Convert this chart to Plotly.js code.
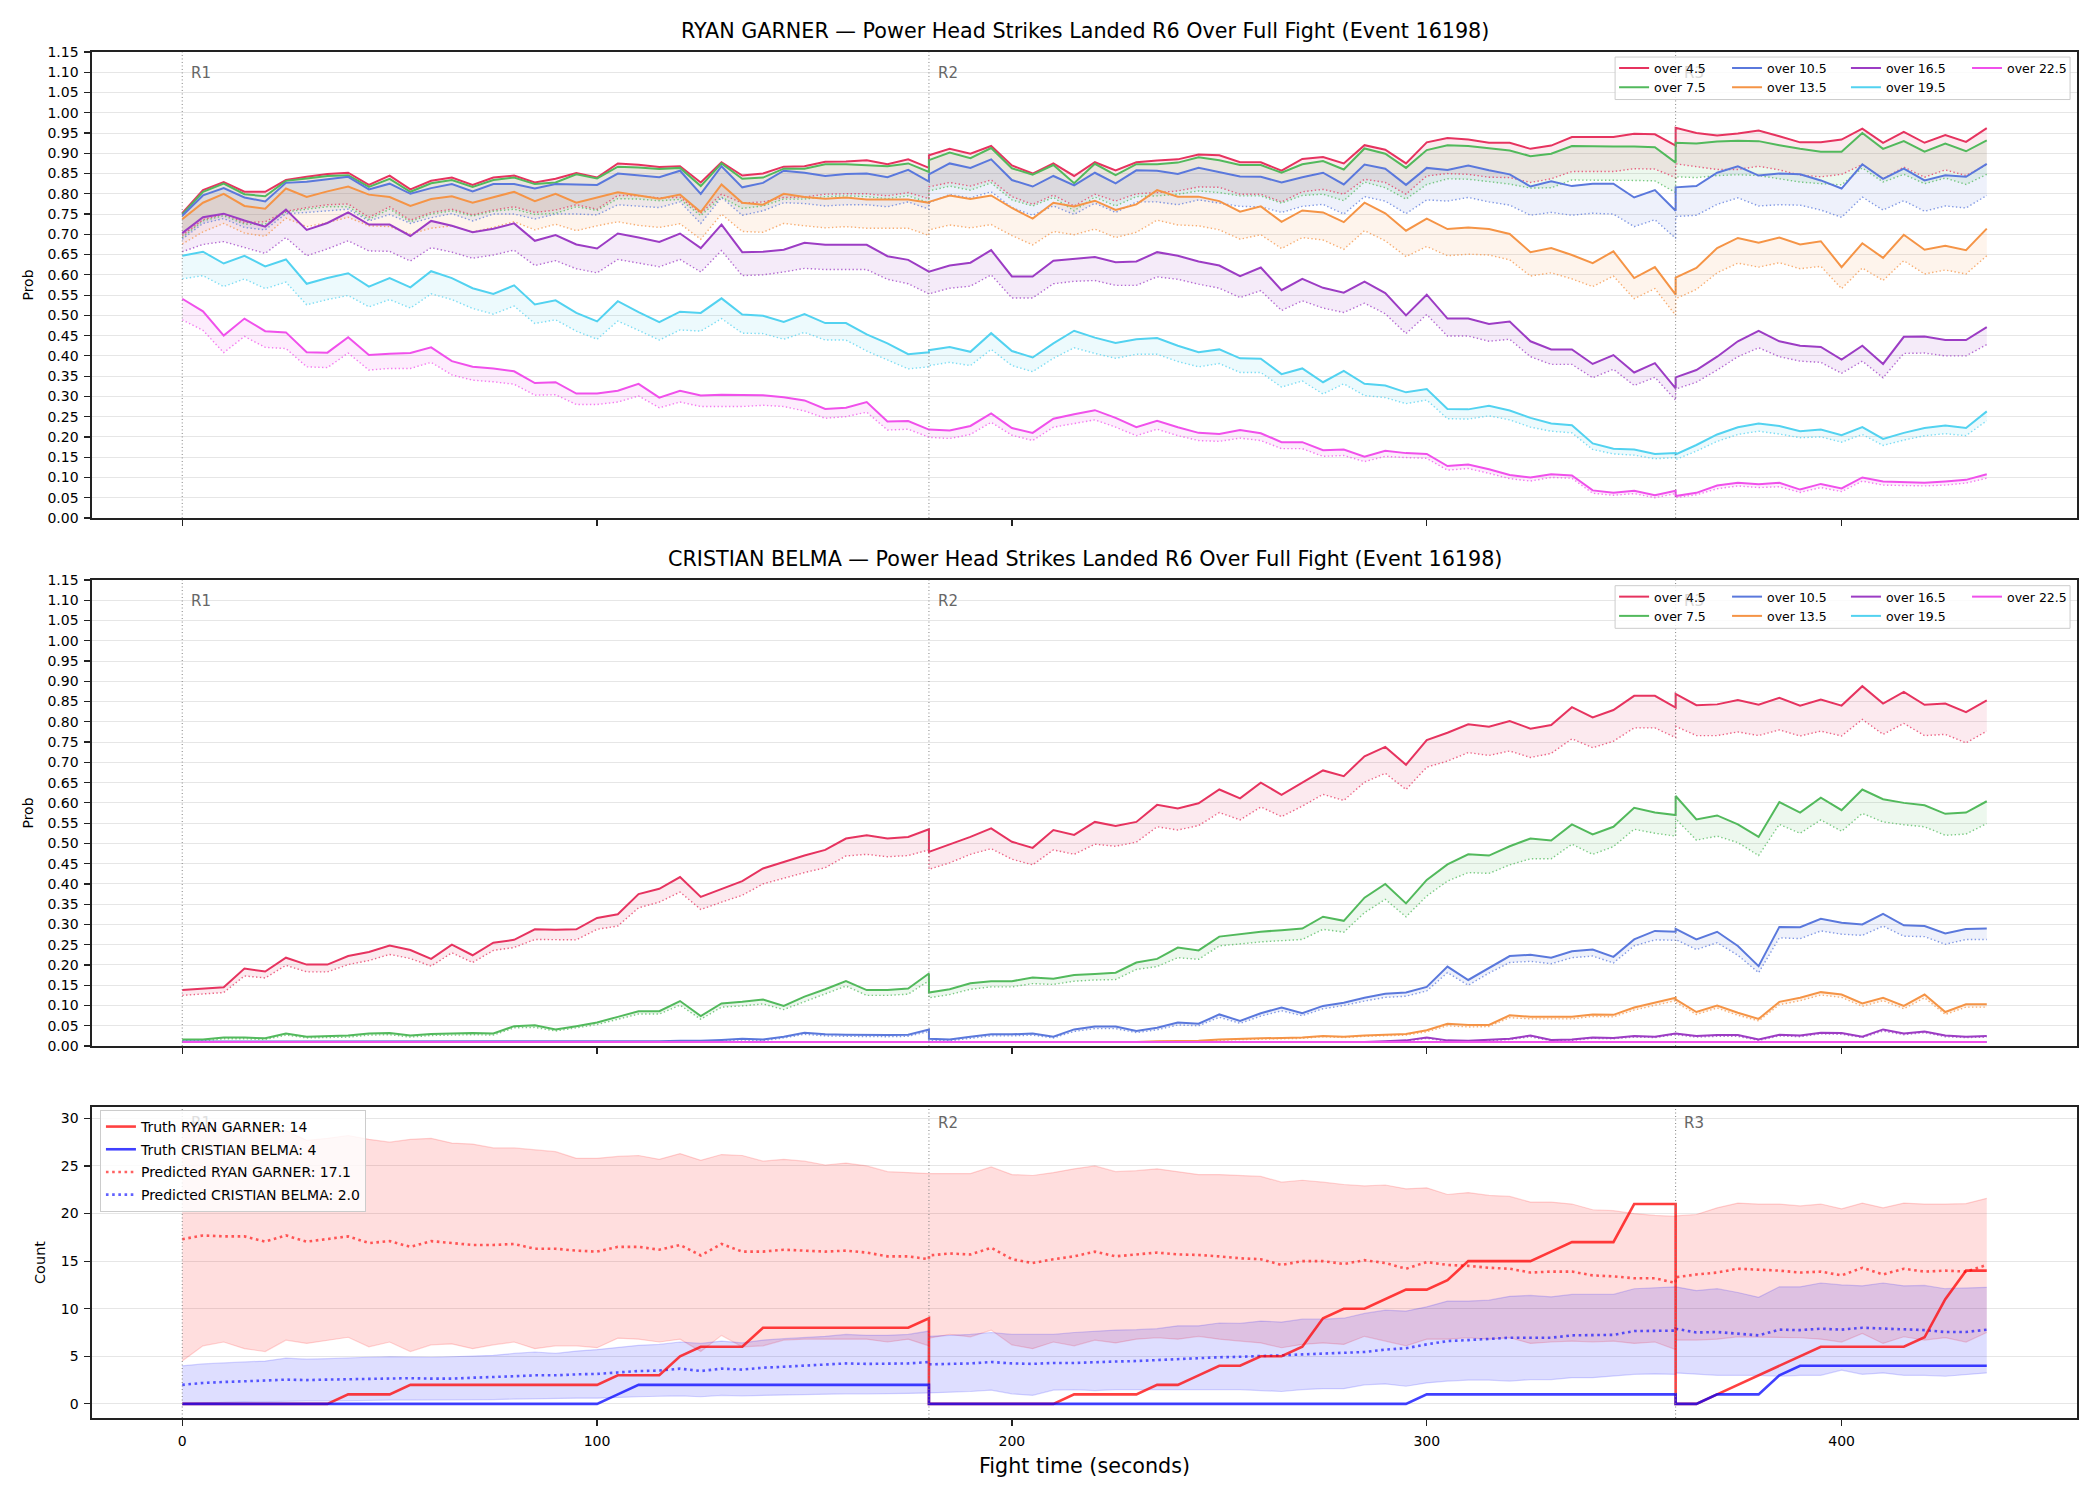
<!DOCTYPE html>
<html><head><meta charset="utf-8">
<script src="https://cdn.plot.ly/plotly-3.0.1.min.js"></script>
<style>html,body{margin:0;padding:0;background:#fff}</style>
</head><body><div id="chart" style="width:2100px;height:1500px"></div>
<script>
// ---------------- DATA ----------------
const fightTime = [
0,5,10,15,20,25,30,35,40,45,50,55,60,65,70,75,80,85,90,95,100,105,110,115,120,125,130,135,140,145,150,155,160,165,170,175,180,
180,185,190,195,200,205,210,215,220,225,230,235,240,245,250,255,260,265,270,275,280,285,290,295,300,305,310,315,320,325,330,335,340,345,350,355,360,
360,365,370,375,380,385,390,395,400,405,410,415,420,425,430,435];
const roundStarts = [0, 180, 360];
const roundLabels = ['R1', 'R2', 'R3'];
const lineLabels = ['over 4.5','over 7.5','over 10.5','over 13.5','over 16.5','over 19.5','over 22.5'];

// RYAN GARNER (panel 1): solid = upper line, _lo = dotted line
const garner_o45 = [0.752,0.809,0.829,0.805,0.805,0.834,0.842,0.849,0.852,0.822,0.845,0.811,0.832,0.840,0.822,0.840,0.845,0.828,0.837,0.851,0.840,0.875,0.872,0.866,0.868,0.828,0.878,0.845,0.850,0.867,0.868,0.879,0.880,0.883,0.873,0.885,0.864,
0.895,0.911,0.899,0.918,0.870,0.850,0.875,0.844,0.878,0.858,0.878,0.882,0.885,0.897,0.895,0.878,0.878,0.857,0.886,0.891,0.875,0.920,0.909,0.875,0.927,0.938,0.934,0.926,0.926,0.911,0.919,0.940,0.940,0.940,0.948,0.947,0.919,
0.963,0.950,0.944,0.949,0.956,0.942,0.927,0.927,0.934,0.961,0.926,0.953,0.926,0.945,0.928,0.962];
const garner_o45_lo = [0.697,0.736,0.750,0.729,0.731,0.757,0.766,0.773,0.775,0.742,0.768,0.735,0.754,0.762,0.748,0.760,0.768,0.754,0.760,0.773,0.762,0.796,0.795,0.790,0.791,0.752,0.799,0.777,0.780,0.791,0.792,0.799,0.800,0.800,0.795,0.803,0.788,
0.817,0.828,0.819,0.834,0.793,0.774,0.797,0.770,0.799,0.782,0.800,0.803,0.807,0.817,0.816,0.799,0.799,0.780,0.805,0.811,0.799,0.836,0.828,0.799,0.844,0.850,0.848,0.841,0.840,0.828,0.837,0.855,0.855,0.855,0.862,0.861,0.840,
0.874,0.867,0.860,0.860,0.868,0.859,0.846,0.842,0.848,0.872,0.837,0.866,0.841,0.859,0.845,0.872];
const garner_o75 = [0.749,0.805,0.825,0.799,0.794,0.832,0.838,0.844,0.846,0.817,0.837,0.805,0.826,0.834,0.817,0.834,0.840,0.824,0.828,0.848,0.838,0.867,0.865,0.861,0.864,0.819,0.875,0.837,0.840,0.862,0.862,0.873,0.873,0.870,0.868,0.875,0.854,
0.883,0.902,0.888,0.913,0.863,0.847,0.871,0.826,0.874,0.846,0.873,0.873,0.877,0.890,0.883,0.871,0.871,0.852,0.873,0.881,0.860,0.912,0.899,0.864,0.908,0.920,0.918,0.913,0.907,0.893,0.899,0.918,0.917,0.917,0.917,0.915,0.877,
0.926,0.924,0.929,0.931,0.930,0.920,0.911,0.904,0.904,0.950,0.911,0.930,0.904,0.924,0.905,0.932];
const garner_o75_lo = [0.692,0.733,0.746,0.725,0.725,0.755,0.762,0.768,0.768,0.737,0.762,0.731,0.750,0.758,0.745,0.757,0.762,0.749,0.752,0.768,0.759,0.788,0.787,0.783,0.786,0.746,0.792,0.764,0.770,0.787,0.787,0.793,0.795,0.793,0.788,0.795,0.778,
0.807,0.819,0.809,0.827,0.785,0.770,0.791,0.758,0.792,0.770,0.793,0.795,0.799,0.807,0.803,0.795,0.795,0.777,0.796,0.799,0.783,0.829,0.815,0.787,0.823,0.837,0.836,0.830,0.824,0.814,0.815,0.834,0.834,0.833,0.833,0.832,0.803,
0.842,0.840,0.845,0.847,0.845,0.837,0.829,0.825,0.822,0.864,0.829,0.848,0.825,0.839,0.823,0.848];
const garner_o105 = [0.746,0.796,0.814,0.791,0.781,0.827,0.830,0.836,0.842,0.811,0.825,0.800,0.814,0.824,0.806,0.824,0.824,0.813,0.824,0.823,0.822,0.850,0.845,0.841,0.857,0.800,0.868,0.816,0.827,0.857,0.852,0.844,0.849,0.850,0.841,0.859,0.830,
0.848,0.875,0.864,0.885,0.834,0.818,0.844,0.821,0.852,0.826,0.858,0.857,0.849,0.864,0.854,0.843,0.842,0.828,0.841,0.852,0.823,0.872,0.862,0.822,0.864,0.859,0.870,0.858,0.848,0.818,0.831,0.819,0.825,0.825,0.791,0.809,0.758,
0.816,0.819,0.852,0.868,0.845,0.850,0.848,0.833,0.813,0.873,0.837,0.862,0.833,0.846,0.842,0.874];
const garner_o105_lo = [0.688,0.727,0.739,0.717,0.711,0.751,0.754,0.758,0.762,0.733,0.749,0.727,0.741,0.751,0.733,0.750,0.750,0.738,0.750,0.750,0.748,0.773,0.770,0.766,0.780,0.727,0.791,0.747,0.758,0.778,0.776,0.770,0.773,0.773,0.768,0.780,0.762,
0.778,0.798,0.790,0.805,0.766,0.747,0.770,0.749,0.777,0.754,0.780,0.780,0.773,0.785,0.777,0.769,0.768,0.754,0.769,0.774,0.750,0.793,0.782,0.751,0.785,0.782,0.791,0.780,0.772,0.747,0.754,0.747,0.752,0.750,0.719,0.736,0.690,
0.744,0.747,0.774,0.790,0.770,0.773,0.772,0.760,0.742,0.792,0.760,0.783,0.757,0.770,0.765,0.796];
const garner_o135 = [0.737,0.778,0.800,0.770,0.763,0.813,0.792,0.806,0.818,0.798,0.792,0.770,0.787,0.794,0.778,0.791,0.805,0.782,0.800,0.778,0.791,0.804,0.796,0.788,0.798,0.755,0.823,0.778,0.773,0.800,0.792,0.788,0.791,0.786,0.786,0.786,0.778,
0.780,0.796,0.787,0.796,0.765,0.739,0.778,0.769,0.783,0.760,0.774,0.809,0.793,0.793,0.782,0.756,0.769,0.731,0.759,0.754,0.730,0.778,0.752,0.709,0.739,0.713,0.717,0.713,0.701,0.656,0.666,0.649,0.629,0.658,0.592,0.619,0.551,
0.593,0.617,0.666,0.691,0.679,0.692,0.675,0.683,0.619,0.678,0.642,0.699,0.662,0.672,0.661,0.714];
const garner_o135_lo = [0.676,0.706,0.727,0.703,0.695,0.740,0.719,0.729,0.742,0.721,0.719,0.701,0.715,0.721,0.706,0.717,0.731,0.711,0.725,0.709,0.721,0.731,0.722,0.717,0.726,0.688,0.750,0.707,0.705,0.727,0.721,0.716,0.719,0.715,0.715,0.715,0.697,
0.711,0.723,0.716,0.724,0.697,0.674,0.707,0.699,0.713,0.692,0.705,0.735,0.723,0.721,0.711,0.688,0.699,0.665,0.692,0.686,0.663,0.709,0.684,0.645,0.670,0.647,0.651,0.649,0.637,0.597,0.605,0.590,0.571,0.597,0.541,0.566,0.500,
0.541,0.564,0.605,0.629,0.619,0.630,0.615,0.621,0.566,0.617,0.586,0.635,0.602,0.612,0.602,0.647];
const garner_o165 = [0.703,0.742,0.751,0.734,0.719,0.761,0.711,0.728,0.754,0.724,0.724,0.696,0.733,0.721,0.705,0.714,0.727,0.684,0.698,0.675,0.665,0.702,0.692,0.681,0.702,0.666,0.724,0.656,0.657,0.662,0.679,0.674,0.674,0.674,0.646,0.637,0.608,
0.608,0.623,0.630,0.661,0.596,0.596,0.635,0.640,0.644,0.631,0.633,0.656,0.647,0.633,0.623,0.597,0.618,0.562,0.590,0.568,0.556,0.583,0.555,0.500,0.551,0.492,0.492,0.479,0.485,0.436,0.416,0.416,0.380,0.402,0.359,0.382,0.320,
0.347,0.365,0.398,0.436,0.462,0.436,0.425,0.422,0.391,0.425,0.380,0.447,0.448,0.439,0.439,0.471];
const garner_o165_lo = [0.657,0.675,0.682,0.667,0.653,0.692,0.647,0.664,0.684,0.659,0.658,0.634,0.667,0.656,0.641,0.649,0.661,0.623,0.635,0.615,0.605,0.638,0.629,0.620,0.638,0.607,0.660,0.598,0.600,0.607,0.616,0.613,0.613,0.613,0.589,0.578,0.553,
0.553,0.567,0.572,0.600,0.543,0.543,0.578,0.584,0.586,0.574,0.574,0.595,0.589,0.577,0.567,0.544,0.561,0.512,0.536,0.518,0.507,0.530,0.504,0.455,0.502,0.449,0.449,0.436,0.441,0.398,0.379,0.379,0.346,0.367,0.327,0.347,0.291,
0.318,0.335,0.365,0.398,0.420,0.398,0.387,0.384,0.357,0.387,0.346,0.406,0.407,0.400,0.400,0.428];
const garner_o195 = [0.647,0.657,0.628,0.647,0.621,0.638,0.578,0.592,0.604,0.571,0.592,0.569,0.609,0.592,0.567,0.553,0.574,0.527,0.537,0.506,0.485,0.535,0.508,0.483,0.509,0.506,0.542,0.502,0.499,0.484,0.503,0.481,0.481,0.453,0.431,0.404,0.409,
0.414,0.422,0.410,0.456,0.412,0.396,0.431,0.462,0.445,0.432,0.441,0.444,0.425,0.409,0.416,0.394,0.393,0.355,0.369,0.335,0.363,0.331,0.327,0.310,0.318,0.269,0.268,0.277,0.265,0.247,0.233,0.229,0.184,0.171,0.169,0.158,0.160,
0.157,0.180,0.206,0.224,0.233,0.227,0.214,0.218,0.204,0.224,0.195,0.210,0.222,0.228,0.222,0.263];
const garner_o195_lo = [0.590,0.598,0.571,0.590,0.566,0.582,0.526,0.539,0.549,0.521,0.539,0.518,0.553,0.539,0.517,0.503,0.523,0.480,0.489,0.461,0.441,0.486,0.463,0.439,0.464,0.461,0.492,0.456,0.455,0.441,0.458,0.439,0.439,0.412,0.390,0.368,0.373,
0.376,0.384,0.376,0.416,0.376,0.361,0.394,0.420,0.406,0.394,0.404,0.404,0.386,0.373,0.381,0.359,0.359,0.323,0.338,0.306,0.331,0.302,0.297,0.282,0.291,0.245,0.244,0.252,0.242,0.224,0.214,0.210,0.169,0.158,0.155,0.146,0.149,
0.144,0.165,0.189,0.206,0.214,0.207,0.198,0.200,0.187,0.206,0.179,0.192,0.203,0.208,0.203,0.240];
const garner_o225 = [0.541,0.510,0.450,0.492,0.461,0.458,0.409,0.408,0.446,0.402,0.405,0.407,0.421,0.387,0.373,0.369,0.362,0.333,0.335,0.307,0.307,0.314,0.331,0.297,0.314,0.302,0.304,0.304,0.303,0.298,0.290,0.269,0.272,0.286,0.238,0.239,0.218,
0.218,0.216,0.227,0.258,0.222,0.210,0.245,0.256,0.266,0.247,0.224,0.240,0.224,0.210,0.207,0.217,0.209,0.187,0.187,0.167,0.169,0.151,0.166,0.160,0.158,0.128,0.132,0.120,0.106,0.100,0.108,0.105,0.068,0.062,0.067,0.056,0.067,
0.054,0.062,0.080,0.087,0.083,0.087,0.070,0.084,0.073,0.100,0.090,0.088,0.087,0.090,0.094,0.108];
const garner_o225_lo = [0.489,0.463,0.408,0.448,0.421,0.418,0.373,0.371,0.407,0.365,0.369,0.369,0.384,0.353,0.340,0.336,0.330,0.303,0.304,0.280,0.280,0.286,0.301,0.272,0.286,0.275,0.275,0.275,0.278,0.275,0.264,0.246,0.250,0.261,0.217,0.219,0.199,
0.199,0.196,0.206,0.236,0.204,0.191,0.224,0.233,0.242,0.224,0.203,0.219,0.203,0.191,0.189,0.197,0.191,0.171,0.171,0.152,0.154,0.139,0.152,0.149,0.147,0.118,0.122,0.110,0.097,0.091,0.100,0.098,0.061,0.056,0.060,0.050,0.060,
0.050,0.057,0.072,0.079,0.075,0.077,0.063,0.075,0.065,0.091,0.081,0.080,0.079,0.081,0.086,0.098];

// CRISTIAN BELMA (panel 2)
const belma_o45 = [0.138,0.141,0.145,0.191,0.184,0.218,0.201,0.201,0.222,0.232,0.248,0.237,0.215,0.250,0.224,0.255,0.262,0.288,0.287,0.288,0.316,0.325,0.375,0.388,0.417,0.368,0.388,0.407,0.438,0.454,0.470,0.484,0.512,0.520,0.512,0.516,0.535,
0.479,0.498,0.516,0.537,0.504,0.489,0.533,0.521,0.553,0.543,0.553,0.595,0.586,0.599,0.633,0.611,0.650,0.620,0.650,0.680,0.666,0.715,0.738,0.694,0.755,0.773,0.794,0.788,0.802,0.783,0.792,0.836,0.811,0.829,0.864,0.864,0.835,
0.869,0.841,0.843,0.854,0.842,0.859,0.840,0.855,0.840,0.888,0.845,0.874,0.842,0.845,0.824,0.853];
const belma_o45_lo = [0.125,0.129,0.132,0.173,0.168,0.199,0.183,0.183,0.201,0.211,0.226,0.216,0.197,0.230,0.206,0.236,0.243,0.263,0.262,0.262,0.288,0.296,0.341,0.355,0.380,0.337,0.355,0.372,0.400,0.414,0.428,0.440,0.469,0.473,0.467,0.470,0.484,
0.436,0.452,0.473,0.487,0.461,0.447,0.484,0.473,0.498,0.493,0.503,0.541,0.533,0.544,0.576,0.558,0.590,0.566,0.592,0.621,0.606,0.651,0.673,0.633,0.688,0.703,0.724,0.717,0.728,0.712,0.722,0.758,0.736,0.752,0.785,0.785,0.761,
0.789,0.766,0.766,0.775,0.766,0.780,0.765,0.777,0.765,0.806,0.769,0.796,0.766,0.769,0.748,0.777];
const belma_o75 = [0.016,0.016,0.021,0.021,0.019,0.031,0.023,0.025,0.026,0.031,0.032,0.026,0.030,0.031,0.032,0.031,0.049,0.051,0.041,0.049,0.058,0.072,0.086,0.086,0.111,0.074,0.105,0.109,0.115,0.099,0.122,0.140,0.160,0.138,0.138,0.142,0.179,
0.132,0.140,0.155,0.160,0.160,0.169,0.166,0.175,0.178,0.181,0.206,0.215,0.243,0.236,0.270,0.276,0.282,0.286,0.290,0.319,0.309,0.366,0.400,0.352,0.410,0.448,0.473,0.470,0.493,0.512,0.507,0.547,0.522,0.541,0.588,0.576,0.570,
0.617,0.559,0.569,0.547,0.516,0.602,0.576,0.613,0.582,0.633,0.609,0.600,0.594,0.573,0.576,0.604];
const belma_o75_lo = [0.013,0.013,0.018,0.018,0.016,0.027,0.020,0.021,0.022,0.027,0.028,0.022,0.026,0.027,0.028,0.027,0.045,0.046,0.037,0.045,0.053,0.066,0.079,0.079,0.101,0.066,0.096,0.099,0.104,0.090,0.110,0.128,0.148,0.125,0.125,0.128,0.161,
0.119,0.127,0.140,0.146,0.146,0.154,0.152,0.160,0.163,0.164,0.189,0.196,0.218,0.214,0.247,0.252,0.257,0.260,0.263,0.288,0.281,0.329,0.362,0.319,0.370,0.407,0.428,0.426,0.447,0.462,0.462,0.498,0.473,0.492,0.535,0.525,0.518,
0.561,0.508,0.518,0.502,0.470,0.547,0.525,0.558,0.530,0.574,0.553,0.546,0.541,0.520,0.523,0.549];
const belma_o105 = [0.011,0.011,0.011,0.011,0.011,0.011,0.011,0.011,0.011,0.011,0.011,0.011,0.011,0.011,0.011,0.011,0.011,0.011,0.011,0.011,0.011,0.011,0.011,0.012,0.013,0.013,0.015,0.018,0.016,0.023,0.033,0.029,0.028,0.027,0.027,0.028,0.041,
0.018,0.016,0.023,0.029,0.029,0.031,0.023,0.041,0.048,0.048,0.037,0.045,0.058,0.055,0.078,0.062,0.081,0.095,0.081,0.099,0.107,0.119,0.129,0.132,0.146,0.196,0.163,0.192,0.222,0.225,0.218,0.234,0.238,0.220,0.263,0.284,0.282,
0.289,0.263,0.282,0.247,0.197,0.294,0.293,0.314,0.304,0.300,0.326,0.298,0.296,0.278,0.289,0.290];
const belma_o105_lo = [0.009,0.009,0.009,0.009,0.009,0.009,0.009,0.009,0.009,0.009,0.009,0.009,0.009,0.009,0.009,0.009,0.009,0.009,0.009,0.009,0.009,0.009,0.009,0.010,0.011,0.011,0.013,0.015,0.013,0.020,0.029,0.025,0.024,0.023,0.023,0.024,0.036,
0.013,0.013,0.019,0.025,0.025,0.027,0.020,0.036,0.043,0.043,0.033,0.040,0.052,0.050,0.071,0.056,0.074,0.087,0.075,0.092,0.100,0.111,0.120,0.123,0.136,0.181,0.150,0.180,0.206,0.209,0.203,0.218,0.222,0.205,0.247,0.262,0.261,
0.263,0.238,0.255,0.224,0.181,0.267,0.265,0.284,0.276,0.273,0.296,0.271,0.270,0.251,0.263,0.263];
const belma_o135 = [0.010,0.010,0.010,0.010,0.010,0.010,0.010,0.010,0.010,0.010,0.010,0.010,0.010,0.010,0.010,0.010,0.010,0.010,0.010,0.010,0.010,0.010,0.010,0.010,0.010,0.010,0.010,0.010,0.010,0.010,0.010,0.010,0.010,0.010,0.010,0.010,0.010,
0.010,0.010,0.010,0.010,0.010,0.010,0.010,0.010,0.010,0.010,0.010,0.012,0.013,0.013,0.016,0.018,0.019,0.020,0.021,0.025,0.023,0.026,0.028,0.030,0.039,0.055,0.052,0.052,0.076,0.072,0.072,0.072,0.078,0.077,0.095,0.107,0.119,
0.115,0.084,0.100,0.082,0.067,0.109,0.119,0.133,0.127,0.105,0.119,0.099,0.127,0.084,0.103,0.103];
const belma_o135_lo = [0.009,0.009,0.009,0.009,0.009,0.009,0.009,0.009,0.009,0.009,0.009,0.009,0.009,0.009,0.009,0.009,0.009,0.009,0.009,0.009,0.009,0.009,0.009,0.009,0.009,0.009,0.009,0.009,0.009,0.009,0.009,0.009,0.009,0.009,0.009,0.009,0.009,
0.009,0.009,0.009,0.009,0.009,0.009,0.009,0.009,0.009,0.009,0.009,0.011,0.012,0.012,0.014,0.016,0.017,0.018,0.019,0.023,0.021,0.024,0.026,0.027,0.035,0.050,0.047,0.048,0.070,0.067,0.067,0.067,0.073,0.072,0.089,0.100,0.112,
0.108,0.078,0.094,0.076,0.062,0.102,0.112,0.126,0.120,0.098,0.112,0.092,0.119,0.078,0.096,0.096];
const belma_o165 = [0.010,0.010,0.010,0.010,0.010,0.010,0.010,0.010,0.010,0.010,0.010,0.010,0.010,0.010,0.010,0.010,0.010,0.010,0.010,0.010,0.010,0.010,0.010,0.010,0.010,0.010,0.010,0.010,0.010,0.010,0.010,0.010,0.010,0.010,0.010,0.010,0.010,
0.010,0.010,0.010,0.010,0.010,0.010,0.010,0.010,0.010,0.010,0.010,0.010,0.010,0.010,0.010,0.010,0.010,0.010,0.010,0.010,0.010,0.010,0.012,0.014,0.021,0.014,0.013,0.016,0.018,0.026,0.015,0.016,0.021,0.020,0.025,0.023,0.031,
0.031,0.025,0.027,0.027,0.016,0.028,0.026,0.033,0.032,0.023,0.041,0.031,0.036,0.026,0.023,0.025];
const belma_o165_lo = [0.009,0.009,0.009,0.009,0.009,0.009,0.009,0.009,0.009,0.009,0.009,0.009,0.009,0.009,0.009,0.009,0.009,0.009,0.009,0.009,0.009,0.009,0.009,0.009,0.009,0.009,0.009,0.009,0.009,0.009,0.009,0.009,0.009,0.009,0.009,0.009,0.009,
0.009,0.009,0.009,0.009,0.009,0.009,0.009,0.009,0.009,0.009,0.009,0.009,0.009,0.009,0.009,0.009,0.009,0.009,0.009,0.009,0.009,0.009,0.011,0.012,0.019,0.012,0.011,0.014,0.016,0.023,0.013,0.014,0.019,0.018,0.022,0.021,0.028,
0.028,0.022,0.024,0.024,0.014,0.025,0.023,0.030,0.029,0.021,0.037,0.028,0.033,0.023,0.021,0.022];
const belma_o195 = [0.010,0.010,0.010,0.010,0.010,0.010,0.010,0.010,0.010,0.010,0.010,0.010,0.010,0.010,0.010,0.010,0.010,0.010,0.010,0.010,0.010,0.010,0.010,0.010,0.010,0.010,0.010,0.010,0.010,0.010,0.010,0.010,0.010,0.010,0.010,0.010,0.010,
0.010,0.010,0.010,0.010,0.010,0.010,0.010,0.010,0.010,0.010,0.010,0.010,0.010,0.010,0.010,0.010,0.010,0.010,0.010,0.010,0.010,0.010,0.010,0.010,0.010,0.010,0.010,0.010,0.010,0.010,0.010,0.010,0.010,0.010,0.010,0.010,0.011,
0.011,0.010,0.010,0.010,0.010,0.010,0.010,0.010,0.010,0.010,0.010,0.010,0.010,0.010,0.010,0.010];
const belma_o195_lo = [0.009,0.009,0.009,0.009,0.009,0.009,0.009,0.009,0.009,0.009,0.009,0.009,0.009,0.009,0.009,0.009,0.009,0.009,0.009,0.009,0.009,0.009,0.009,0.009,0.009,0.009,0.009,0.009,0.009,0.009,0.009,0.009,0.009,0.009,0.009,0.009,0.009,
0.009,0.009,0.009,0.009,0.009,0.009,0.009,0.009,0.009,0.009,0.009,0.009,0.009,0.009,0.009,0.009,0.009,0.009,0.009,0.009,0.009,0.009,0.009,0.009,0.009,0.009,0.009,0.009,0.009,0.009,0.009,0.009,0.009,0.009,0.009,0.009,0.010,
0.010,0.009,0.009,0.009,0.009,0.009,0.009,0.009,0.009,0.009,0.009,0.009,0.009,0.009,0.009,0.009];
const belma_o225 = [0.010,0.010,0.010,0.010,0.010,0.010,0.010,0.010,0.010,0.010,0.010,0.010,0.010,0.010,0.010,0.010,0.010,0.010,0.010,0.010,0.010,0.010,0.010,0.010,0.010,0.010,0.010,0.010,0.010,0.010,0.010,0.010,0.010,0.010,0.010,0.010,0.010,
0.010,0.010,0.010,0.010,0.010,0.010,0.010,0.010,0.010,0.010,0.010,0.010,0.010,0.010,0.010,0.010,0.010,0.010,0.010,0.010,0.010,0.010,0.010,0.010,0.010,0.010,0.010,0.010,0.010,0.010,0.010,0.010,0.010,0.010,0.010,0.010,0.010,
0.010,0.010,0.010,0.010,0.010,0.010,0.010,0.010,0.010,0.010,0.010,0.010,0.010,0.010,0.010,0.010];
const belma_o225_lo = [0.009,0.009,0.009,0.009,0.009,0.009,0.009,0.009,0.009,0.009,0.009,0.009,0.009,0.009,0.009,0.009,0.009,0.009,0.009,0.009,0.009,0.009,0.009,0.009,0.009,0.009,0.009,0.009,0.009,0.009,0.009,0.009,0.009,0.009,0.009,0.009,0.009,
0.009,0.009,0.009,0.009,0.009,0.009,0.009,0.009,0.009,0.009,0.009,0.009,0.009,0.009,0.009,0.009,0.009,0.009,0.009,0.009,0.009,0.009,0.009,0.009,0.009,0.009,0.009,0.009,0.009,0.009,0.009,0.009,0.009,0.009,0.009,0.009,0.009,
0.009,0.009,0.009,0.009,0.009,0.009,0.009,0.009,0.009,0.009,0.009,0.009,0.009,0.009,0.009,0.009];

// Counts (panel 3)
const truth_garner = [0,0,0,0,0,0,0,0,1,1,1,2,2,2,2,2,2,2,2,2,2,3,3,3,5,6,6,6,8,8,8,8,8,8,8,8,9,
0,0,0,0,0,0,0,1,1,1,1,2,2,3,4,4,5,5,6,9,10,10,11,12,12,13,15,15,15,15,16,17,17,17,21,21,21,
0,0,1,2,3,4,5,6,6,6,6,6,7,11,14,14];
const truth_belma = [0,0,0,0,0,0,0,0,0,0,0,0,0,0,0,0,0,0,0,0,0,1,2,2,2,2,2,2,2,2,2,2,2,2,2,2,2,
0,0,0,0,0,0,0,0,0,0,0,0,0,0,0,0,0,0,0,0,0,0,0,0,1,1,1,1,1,1,1,1,1,1,1,1,1,
0,0,1,1,1,3,4,4,4,4,4,4,4,4,4,4];
const pred_garner = [17.3,17.7,17.6,17.6,17.05,17.7,17.05,17.3,17.6,16.9,17.1,16.5,17.1,16.9,16.7,16.7,16.8,16.3,16.3,16.1,16.0,16.5,16.5,16.2,16.7,15.6,16.8,16.0,16.0,16.2,16.1,16.0,16.1,15.9,15.5,15.5,15.2,
15.6,15.8,15.7,16.4,15.2,14.8,15.2,15.5,16.0,15.5,15.7,15.9,15.7,15.65,15.5,15.3,15.2,14.6,15.0,15.0,14.7,15.1,14.8,14.2,14.9,14.6,14.5,14.3,14.2,13.8,13.9,13.9,13.5,13.4,13.2,13.2,12.7,
13.3,13.6,13.8,14.2,14.1,14.0,13.8,13.9,13.5,14.3,13.6,14.2,13.9,14.0,13.9,14.6];
const pred_garner_hi = [29.7,29.3,28.7,29.3,28.6,28.7,27.7,27.9,28.2,27.8,27.5,27.8,27.9,27.4,27.3,26.9,26.9,26.7,26.5,25.8,25.8,26.0,26.1,25.7,26.3,25.6,26.2,26.1,25.5,25.7,25.5,25.1,25.3,25.0,24.4,24.3,24.2,
24.2,24.2,24.2,24.9,24.1,24.0,24.3,24.7,25.0,24.4,24.5,24.7,24.4,24.1,24.1,24.0,23.9,23.3,23.5,23.3,23.05,22.9,23.0,22.6,22.7,22.0,22.2,21.9,21.8,21.2,21.2,21.0,20.4,20.3,20.0,19.8,19.7,
19.75,19.9,20.6,21.1,21.0,21.0,20.8,21.0,20.5,21.1,20.6,21.1,21.0,21.0,21.05,21.6];
const pred_garner_lo = [4.5,6.1,6.5,5.8,5.5,6.7,6.35,6.7,7.0,6.0,6.5,5.5,6.2,6.3,5.8,6.2,6.5,5.8,6.1,6.1,5.9,6.9,6.8,6.5,6.8,5.5,7.2,6.0,6.1,6.7,6.8,6.8,6.8,6.8,6.5,6.8,6.1,
6.9,7.3,7.05,7.75,6.2,5.8,6.5,6.1,6.7,6.4,6.8,6.95,6.8,7.1,6.8,6.6,6.4,5.9,6.25,6.4,6.25,7.1,6.6,6.1,6.8,6.8,6.95,6.8,6.95,6.35,6.5,6.6,6.5,6.6,6.35,6.5,5.7,
6.7,6.7,6.8,7.05,7.0,6.95,6.95,6.8,6.5,7.4,6.35,7.05,6.7,6.95,6.5,7.5];
const pred_belma = [2.0,2.2,2.3,2.35,2.45,2.55,2.5,2.55,2.6,2.65,2.65,2.7,2.65,2.65,2.75,2.8,2.9,3.0,3.0,3.1,3.15,3.3,3.45,3.5,3.7,3.45,3.7,3.6,3.8,3.9,4.0,4.15,4.25,4.2,4.2,4.25,4.4,
4.15,4.2,4.25,4.4,4.25,4.2,4.3,4.3,4.4,4.45,4.5,4.6,4.75,4.85,4.9,4.95,5.0,5.1,5.2,5.3,5.35,5.45,5.7,5.85,6.25,6.6,6.7,6.8,6.95,6.95,6.95,7.2,7.2,7.25,7.65,7.65,7.7,
7.9,7.5,7.55,7.4,7.2,7.8,7.75,7.9,7.8,8.0,7.9,7.8,7.75,7.55,7.55,7.8];
const pred_belma_hi = [4.0,4.2,4.3,4.4,4.5,4.8,4.7,4.75,4.85,4.9,4.95,4.9,4.9,4.95,5.0,5.1,5.3,5.45,5.3,5.55,5.7,5.9,6.15,6.25,6.5,6.35,6.6,6.4,6.7,6.85,6.95,7.1,7.3,7.2,7.2,7.3,7.65,
7.1,7.2,7.3,7.5,7.3,7.3,7.3,7.5,7.65,7.75,7.8,7.9,8.2,8.2,8.5,8.45,8.7,8.6,8.9,8.9,9.0,9.5,9.85,9.75,10.2,10.8,10.8,10.9,11.3,11.4,11.25,11.5,11.5,11.5,12.1,12.2,12.3,
12.3,11.9,12.1,11.7,11.2,12.3,12.3,12.7,12.5,12.4,12.7,12.4,12.45,12.1,12.2,12.25];
const pred_belma_lo = [0.0,0.1,0.15,0.2,0.25,0.3,0.3,0.3,0.35,0.35,0.4,0.4,0.4,0.4,0.45,0.45,0.5,0.55,0.55,0.6,0.6,0.7,0.75,0.8,0.85,0.75,0.9,0.85,0.9,0.95,1.0,1.05,1.05,1.05,1.05,1.1,1.15,
1.15,1.2,1.3,1.45,1.05,0.9,1.45,1.5,1.4,1.5,1.5,1.45,1.5,1.5,1.45,1.5,1.4,1.3,1.5,1.6,1.6,2.0,2.1,1.85,2.2,2.4,2.5,2.5,2.4,2.55,2.55,2.75,2.75,2.9,3.1,3.15,3.1,
3.25,3.1,3.0,3.0,3.0,2.9,3.0,3.0,3.55,3.1,3.25,3.0,3.0,2.9,3.1,3.25];

// ---------------- STYLE ----------------
const FONT = 'DejaVu Sans, Verdana, sans-serif';
const lineColors = ['#e6335f','#52b95c','#5a78dc','#f59446','#9c3cc4','#52d2f0','#f050eb'];
function rgba(hex, a){const n=parseInt(hex.slice(1),16);return `rgba(${(n>>16)&255},${(n>>8)&255},${n&255},${a})`;}

const garnerSeries = [[garner_o45,garner_o45_lo],[garner_o75,garner_o75_lo],[garner_o105,garner_o105_lo],[garner_o135,garner_o135_lo],[garner_o165,garner_o165_lo],[garner_o195,garner_o195_lo],[garner_o225,garner_o225_lo]];
const belmaSeries = [[belma_o45,belma_o45_lo],[belma_o75,belma_o75_lo],[belma_o105,belma_o105_lo],[belma_o135,belma_o135_lo],[belma_o165,belma_o165_lo],[belma_o195,belma_o195_lo],[belma_o225,belma_o225_lo]];

function probTraces(series, xa, ya, legendIds){
  const fills=[], lines=[];
  series.forEach((pair,i)=>{
    const c=lineColors[i];
    fills.push({x:fightTime,y:pair[1],xaxis:xa,yaxis:ya,mode:'lines',line:{width:0,color:c},showlegend:false,hoverinfo:'skip'});
    fills.push({x:fightTime,y:pair[0],xaxis:xa,yaxis:ya,mode:'lines',line:{width:0,color:c},fill:'tonexty',fillcolor:rgba(c,0.1),showlegend:false,hoverinfo:'skip'});
  });
  series.forEach((pair,i)=>{
    const c=lineColors[i];
    lines.push({x:fightTime,y:pair[1],xaxis:xa,yaxis:ya,mode:'lines',line:{color:rgba(c,0.75),width:1.4,dash:'1.4px,2.4px'},showlegend:false,hoverinfo:'skip'});
  });
  series.forEach((pair,i)=>{
    const c=lineColors[i];
    lines.push({x:fightTime,y:pair[0],xaxis:xa,yaxis:ya,mode:'lines',line:{color:c,width:2},name:lineLabels[i],legend:legendIds[Math.floor(i/2)],legendrank:i+1,showlegend:true});
  });
  return fills.concat(lines);
}

const traces = [].concat(
  probTraces(garnerSeries,'x','y',['legend','legend2','legend3','legend4']),
  probTraces(belmaSeries,'x2','y2',['legend5','legend6','legend7','legend8'])
);
// count panel
const bandEdgeR='rgba(255,0,0,0.16)', bandEdgeB='rgba(0,0,255,0.16)';
traces.push({x:fightTime,y:pred_garner_lo,xaxis:'x3',yaxis:'y3',mode:'lines',line:{width:1.2,color:bandEdgeR},showlegend:false,hoverinfo:'skip'});
traces.push({x:fightTime,y:pred_garner_hi,xaxis:'x3',yaxis:'y3',mode:'lines',line:{width:1.2,color:bandEdgeR},fill:'tonexty',fillcolor:'rgba(255,0,0,0.13)',showlegend:false,hoverinfo:'skip'});
traces.push({x:fightTime,y:pred_belma_lo,xaxis:'x3',yaxis:'y3',mode:'lines',line:{width:1.2,color:bandEdgeB},showlegend:false,hoverinfo:'skip'});
traces.push({x:fightTime,y:pred_belma_hi,xaxis:'x3',yaxis:'y3',mode:'lines',line:{width:1.2,color:bandEdgeB},fill:'tonexty',fillcolor:'rgba(0,0,255,0.13)',showlegend:false,hoverinfo:'skip'});
traces.push({x:fightTime,y:pred_garner,xaxis:'x3',yaxis:'y3',mode:'lines',line:{color:'rgba(255,0,0,0.62)',width:2.6,dash:'2.6px,3.6px'},name:'Predicted RYAN GARNER: 17.1',legend:'legend9',legendgroup:'c',legendrank:3});
traces.push({x:fightTime,y:pred_belma,xaxis:'x3',yaxis:'y3',mode:'lines',line:{color:'rgba(0,0,255,0.62)',width:2.6,dash:'2.6px,3.6px'},name:'Predicted CRISTIAN BELMA: 2.0',legend:'legend9',legendgroup:'d',legendrank:4});
traces.push({x:fightTime,y:truth_garner,xaxis:'x3',yaxis:'y3',mode:'lines',line:{color:'rgba(255,0,0,0.75)',width:2.6},name:'Truth RYAN GARNER: 14',legend:'legend9',legendgroup:'a',legendrank:1});
traces.push({x:fightTime,y:truth_belma,xaxis:'x3',yaxis:'y3',mode:'lines',line:{color:'rgba(0,0,255,0.75)',width:2.6},name:'Truth CRISTIAN BELMA: 4',legend:'legend9',legendgroup:'b',legendrank:2});

// ---------------- LAYOUT ----------------
const probTicks=[]; for(let i=0;i<=23;i++) probTicks.push(+(i*0.05).toFixed(2));
const xr=[-21.75,456.75];
function xAxis(show, anchor){
  return {range:xr,anchor:anchor,tickmode:'array',tickvals:[0,100,200,300,400],showticklabels:show,ticks:'outside',ticklen:6,tickwidth:1.2,tickcolor:'#222',
    showgrid:false,zeroline:false,showline:true,mirror:true,linecolor:'#222',linewidth:1.6,tickfont:{size:14,color:'#000'},ticklabelstandoff:4};
}
function yProb(domain, anchor){
  return {domain:domain,anchor:anchor,range:[0,1.15],tickmode:'array',tickvals:probTicks,tickformat:'.2f',ticks:'outside',ticklen:6,tickwidth:1.2,tickcolor:'#222',
    showgrid:true,gridcolor:'#e6e6e6',gridwidth:1,zeroline:false,showline:true,mirror:true,linecolor:'#222',linewidth:1.6,
    tickfont:{size:14,color:'#000'},ticklabelstandoff:3,title:{text:'Prob',font:{size:14,color:'#000'},standoff:10}};
}
const P1=[0.6589,1], P2=[0.2723,0.6135], P3=[0,0.2277];
function colLegend(x,y){return {x:x,y:y,xanchor:'left',yanchor:'top',xref:'paper',yref:'paper',orientation:'v',traceorder:'normal',bgcolor:'rgba(0,0,0,0)',borderwidth:0,font:{size:12.5,color:'#000',family:FONT}};}
const shapes=[];
[['x','y'],['x2','y2'],['x3','y3']].forEach(([xa,ya])=>{
  roundStarts.forEach(t=>shapes.push({type:'line',xref:xa,yref:ya+' domain',x0:t,x1:t,y0:0,y1:1,line:{color:'#808080',width:1,dash:'1px,2.5px'},layer:'above'}));
});
shapes.push({type:'rect',xref:'paper',yref:'paper',x0:0.7673,x1:0.9965,y0:0.9652,y1:0.9963,fillcolor:'rgba(255,255,255,0.82)',line:{color:'#cccccc',width:1},layer:'above'});
shapes.push({type:'rect',xref:'paper',yref:'paper',x0:0.7673,x1:0.9965,y0:0.5781,y1:0.6093,fillcolor:'rgba(255,255,255,0.82)',line:{color:'#cccccc',width:1},layer:'above'});

const annotations=[
  {text:'RYAN GARNER — Power Head Strikes Landed R6 Over Full Fight (Event 16198)',xref:'paper',yref:'paper',x:0.5,y:1.0154,xanchor:'center',yanchor:'middle',showarrow:false,font:{size:20.7,color:'#000'}},
  {text:'CRISTIAN BELMA — Power Head Strikes Landed R6 Over Full Fight (Event 16198)',xref:'paper',yref:'paper',x:0.5,y:0.6288,xanchor:'center',yanchor:'middle',showarrow:false,font:{size:20.7,color:'#000'}}
];
[['x','y',1.097],['x2','y2',1.097],['x3','y3',29.5]].forEach(([xa,ya,yy],pi)=>{
  roundStarts.forEach((t,ri)=>{
    let op=1;
    if(pi<2 && ri===2) op=0.25;
    if(pi===2 && ri===0) op=0.2;
    annotations.push({text:roundLabels[ri],xref:xa,yref:ya,x:t+1.6,y:yy,xanchor:'left',yanchor:'middle',showarrow:false,opacity:op,font:{size:15,color:'#666'}});
  });
});

const layout={
  width:2100,height:1500,paper_bgcolor:'#fff',plot_bgcolor:'#fff',
  font:{family:FONT,color:'#000',size:14},
  margin:{l:92,r:23,t:52,b:82},
  showlegend:true,
  xaxis:xAxis(false,'y'), xaxis2:xAxis(false,'y2'), xaxis3:Object.assign(xAxis(true,'y3'),{title:{text:'Fight time (seconds)',font:{size:20.7,color:'#000'},standoff:10}}),
  yaxis:yProb(P1,'x'), yaxis2:yProb(P2,'x2'),
  yaxis3:{domain:P3,anchor:'x3',range:[-1.485,31.2],tickmode:'array',tickvals:[0,5,10,15,20,25,30],ticks:'outside',ticklen:6,tickwidth:1.2,tickcolor:'#222',
    showgrid:true,gridcolor:'#e6e6e6',gridwidth:1,zeroline:false,showline:true,mirror:true,linecolor:'#222',linewidth:1.6,
    tickfont:{size:14,color:'#000'},ticklabelstandoff:3,title:{text:'Count',font:{size:14.5,color:'#000'},standoff:11}},
  legend:colLegend(0.7668,0.999), legend2:colLegend(0.8237,0.999), legend3:colLegend(0.8836,0.999), legend4:colLegend(0.9446,0.999),
  legend5:colLegend(0.7668,0.6120), legend6:colLegend(0.8237,0.6120), legend7:colLegend(0.8836,0.6120), legend8:colLegend(0.9446,0.6120),
  legend9:{x:0.004,y:0.2255,xanchor:'left',yanchor:'top',xref:'paper',yref:'paper',orientation:'v',bgcolor:'rgba(255,255,255,0.82)',bordercolor:'#cccccc',borderwidth:1,
    font:{size:14,color:'#000',family:FONT},tracegroupgap:1.5,traceorder:'grouped'},
  shapes:shapes, annotations:annotations
};
Plotly.newPlot('chart',traces,layout,{staticPlot:true,displayModeBar:false});
</script></body></html>
